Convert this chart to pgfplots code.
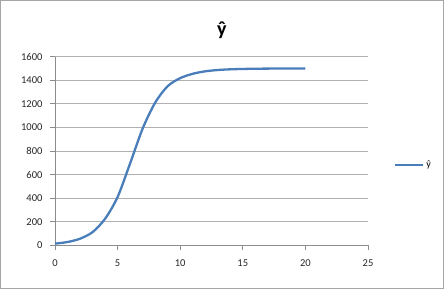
\documentclass[border=0pt]{standalone}
\usepackage{fontspec}
\setmainfont{Carlito}
\usepackage{pgfplots}
\pgfplotsset{compat=1.18}
\definecolor{exblue}{HTML}{4A7EBB}
\definecolor{gridgray}{HTML}{B0B0B0}
\definecolor{axgray}{HTML}{8C8C8C}
\begin{document}
\begin{tikzpicture}
\begin{axis}[
  scale only axis, width=313pt, height=188.6pt,
  xmin=0, xmax=25, ymin=0, ymax=1600,
  xtick={0,5,10,15,20,25}, ytick={0,200,...,1600},
  axis x line*=bottom, axis y line*=left,
  axis line style={color=axgray, line width=0.8pt},
  tick style={color=axgray, line width=0.8pt},
  tick align=outside, major tick length=5pt,
  ymajorgrids, grid style={color=gridgray, line width=0.8pt},
  ticklabel style={font=\fontsize{10.5}{10.5}\selectfont, color=black!85},
  /pgf/number format/assume math mode=true,
  /pgf/number format/1000 sep={},
  yticklabel style={xshift=-4pt},
  xticklabel style={yshift=-6pt},
  legend style={at={(1.083,0.424)}, anchor=west, draw=none, fill=none,
    font=\fontsize{10}{10}\selectfont, inner sep=0pt},
  legend image code/.code={\draw[#1] (0pt,0pt) -- (28pt,0pt);},
  clip=false,
]
\draw[color=gray!70, line width=1pt] (rel axis cs:-0.1741,-0.2290) rectangle (rel axis cs:1.2412,1.2980);
\node[font=\bfseries\fontsize{20}{20}\selectfont] at (rel axis cs:0.5335,1.1416) {ŷ};
\addplot[color=exblue, line width=2.3pt, smooth, tension=0.5] coordinates {
(0,14) (1,28) (2,56) (3,112) (4,225) (5,410) (6,695) (7,990) (8,1210)
(9,1350) (10,1418) (11,1455) (12,1476) (13,1487) (14,1493) (15,1496)
(16,1498) (17,1499) (18,1499.5) (19,1500) (20,1500)
};
\addlegendentry{ŷ}
\end{axis}
\end{tikzpicture}
\end{document}
